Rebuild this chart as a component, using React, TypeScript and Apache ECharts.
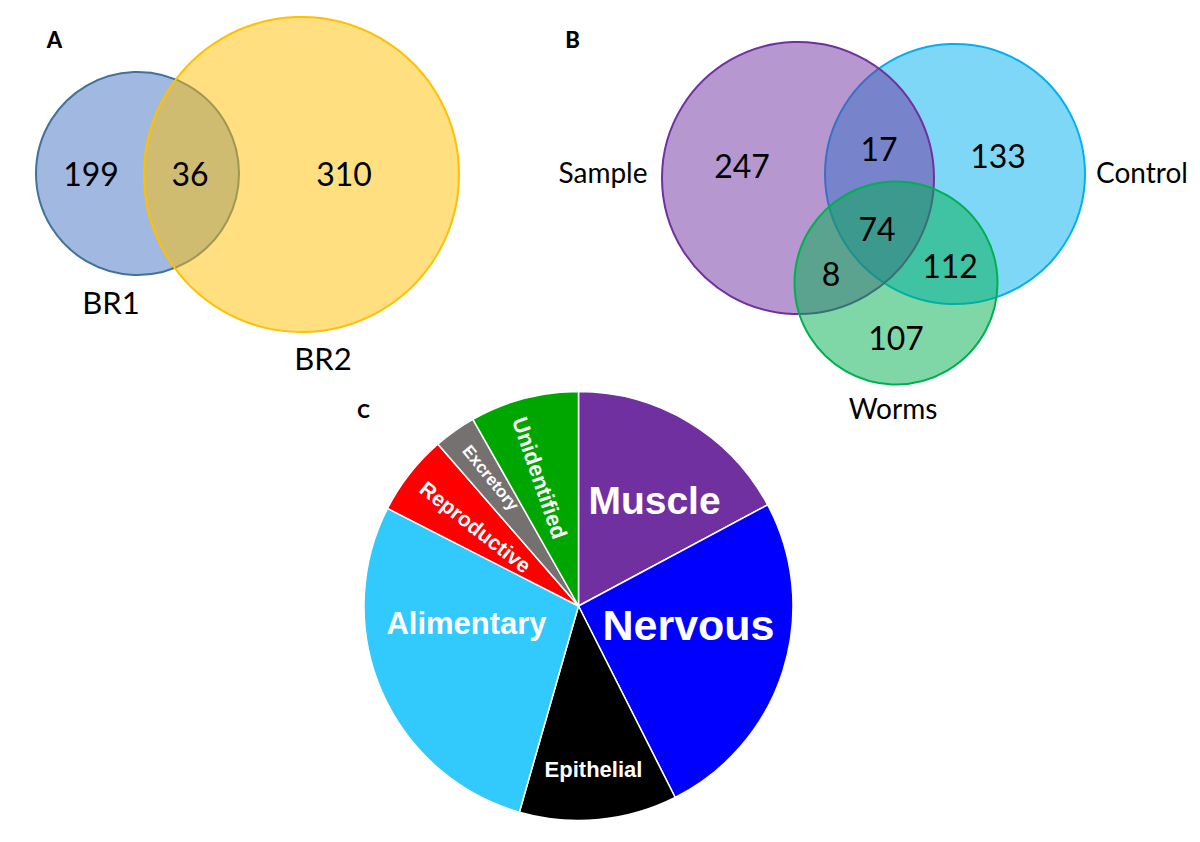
import React, { useEffect, useRef } from "react";
import * as echarts from "echarts";

// ---- Data ----
const vennASets = ["BR1", "BR2"];
// BR1 only, BR1∩BR2, BR2 only
const vennACounts = [199, 36, 310];

const vennBSets = ["Sample", "Control", "Worms"];
// Sample only, Sample∩Control, Control only, all three, Sample∩Worms, Control∩Worms, Worms only
const vennBCounts = [247, 17, 133, 74, 8, 112, 107];

const tissues = ["Muscle", "Nervous", "Epithelial", "Alimentary", "Reproductive", "Excretory", "Unidentified"];
const tissueShare = [17.2, 25.4, 11.9, 28.1, 6.1, 3.2, 8.2];

// ---- Styling / layout (not data) ----
const VENN_FONT = "Lato, 'Open Sans', sans-serif";
const PIE_FONT = "'Liberation Sans', Arial, sans-serif";
const tissueColors = ["#7030a0", "#0000ff", "#000000", "#32c9fd", "#ff0000", "#767171", "#00a600"];
const tissueFontSize = [39, 43, 22, 31, 21, 17, 22];
const tissueRotate = [0, 0, 0, 0, -38, -51, -71];
// label centre offsets from pie centre
const tissueLabelOffset: [number, number][] = [
  [76, -106], [110, 19], [15, 163], [-112, 17], [-103, -79], [-88, -128], [-39, -128],
];
const PIE_CENTER: [number, number] = [578.5, 606];
const PIE_R = 214.5;

const circlesA = [
  { cx: 137.5, cy: 173.5, r: 101.5, fill: "rgba(68,114,196,0.5)", stroke: "#41719c" },
  { cx: 301.5, cy: 174.5, r: 157.5, fill: "rgba(255,192,0,0.5)", stroke: "#ffc000" },
];
const setLabelPosA: [number, number][] = [[111, 302], [323, 358]];
const countPosA: [number, number][] = [[91, 173], [190, 173], [344, 173]];

// drawing order: Control, Sample, Worms
const circlesB = [
  { cx: 955, cy: 174, r: 130, fill: "rgba(0,176,240,0.5)", stroke: "#00b0f0" },
  { cx: 798, cy: 178, r: 136, fill: "rgba(112,48,160,0.5)", stroke: "#7030a0" },
  { cx: 896, cy: 283, r: 101.5, fill: "rgba(0,176,80,0.5)", stroke: "#00b050" },
];
const setLabelPosB: [number, number][] = [[603, 172], [1142, 172], [893, 408]];
const countPosB: [number, number][] = [[742, 165], [879, 148], [998, 155], [877, 228], [831, 273], [950, 265], [896, 337]];

function txt(text: string, x: number, y: number, size: number, weight = "normal", family = VENN_FONT, fill = "#000") {
  return {
    type: "text",
    x,
    y,
    silent: true,
    style: {
      text,
      fill,
      fontSize: size,
      fontWeight: weight,
      fontFamily: family,
      align: "center",
      verticalAlign: "middle",
      textAlign: "center",
      textVerticalAlign: "middle",
    },
  };
}

function circ(c: { cx: number; cy: number; r: number; fill: string; stroke: string }) {
  return {
    type: "circle",
    silent: true,
    shape: { cx: c.cx, cy: c.cy, r: c.r },
    style: { fill: c.fill, stroke: c.stroke, lineWidth: 2 },
  };
}

export default function App() {
  const ref = useRef<HTMLDivElement>(null);
  useEffect(() => {
    if (!ref.current) return;
    const chart = echarts.init(ref.current, undefined, { renderer: "svg" });

    const graphics: any[] = [];
    circlesA.forEach((c) => graphics.push(circ(c)));
    circlesB.forEach((c) => graphics.push(circ(c)));
    vennASets.forEach((s, i) => graphics.push(txt(s, setLabelPosA[i][0], setLabelPosA[i][1], 31)));
    vennACounts.forEach((v, i) => graphics.push(txt(String(v), countPosA[i][0], countPosA[i][1], 32)));
    vennBSets.forEach((s, i) => graphics.push(txt(s, setLabelPosB[i][0], setLabelPosB[i][1], 28)));
    vennBCounts.forEach((v, i) => graphics.push(txt(String(v), countPosB[i][0], countPosB[i][1], 32)));
    graphics.push(txt("A", 54.5, 39, 22, "900"));
    graphics.push(txt("B", 572.5, 39, 22, "900"));
    graphics.push(txt("C", 363.5, 410, 19, "900"));

    chart.setOption({
      animation: false,
      backgroundColor: "#ffffff",
      graphic: { elements: graphics },
      series: [
        {
          type: "pie",
          center: PIE_CENTER,
          radius: PIE_R,
          startAngle: 90,
          clockwise: true,
          avoidLabelOverlap: false,
          silent: true,
          emphasis: { disabled: true },
          itemStyle: { borderColor: "#ffffff", borderWidth: 1.5 },
          label: {
            show: true,
            position: "inside",
            color: "#ffffff",
            fontFamily: PIE_FONT,
            fontWeight: "bold",
          },
          labelLine: { show: false },
          labelLayout: (p: any) => {
            const i = p.dataIndex;
            const o = tissueLabelOffset[i];
            return {
              x: PIE_CENTER[0] + o[0],
              y: PIE_CENTER[1] + o[1],
              align: "center",
              verticalAlign: "middle",
              rotate: tissueRotate[i],
            };
          },
          data: tissues.map((name, i) => ({
            name,
            value: tissueShare[i],
            itemStyle: { color: tissueColors[i] },
            label: { fontSize: tissueFontSize[i], rotate: tissueRotate[i], formatter: "{b}" },
          })),
        },
      ],
    });
    return () => chart.dispose();
  }, []);
  return (
    <div
      ref={ref}
      style={{ position: "absolute", left: 0, top: 0, width: 1200, height: 842 }}
    />
  );
}
